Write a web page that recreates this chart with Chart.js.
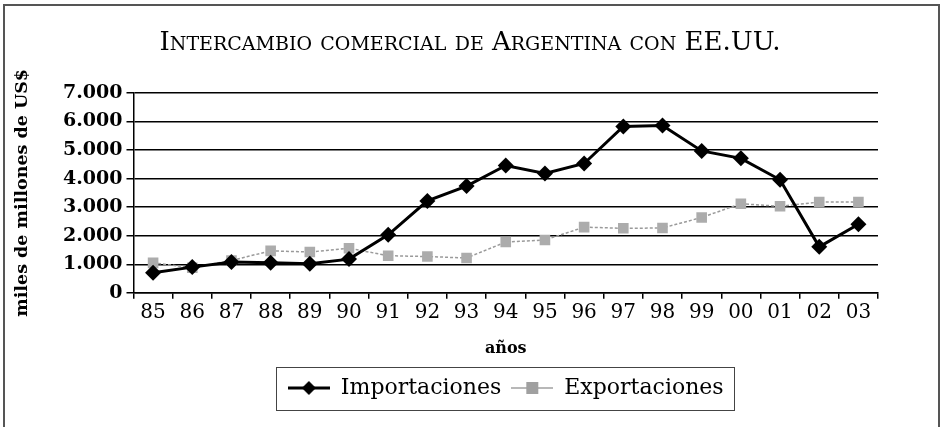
<!doctype html>
<html>
<head>
<meta charset="utf-8">
<title>Intercambio comercial de Argentina con EE.UU.</title>
<script src="https://cdn.jsdelivr.net/npm/chart.js"></script>
<style>
html, body {margin: 0; padding: 0; background: #fff;}
#wrap {width: 943px; height: 427px; position: relative;}
</style>
</head>
<body>
<div id="wrap"><canvas id="chart" width="943" height="427"></canvas></div>
<script>
let years = ['85', '86', '87', '88', '89', '90', '91', '92', '93', '94', '95', '96', '97', '98', '99', '00', '01', '02', '03']
let importaciones = [700, 900, 1080, 1050, 1020, 1180, 2030, 3220, 3740, 4460, 4180, 4530, 5830, 5860, 4970, 4710, 3960, 1610, 2400]
let exportaciones = [1050, 880, 1130, 1470, 1430, 1560, 1300, 1270, 1220, 1780, 1850, 2300, 2260, 2270, 2640, 3120, 3030, 3180, 3180]
let yTicks = [0, 1000, 2000, 3000, 4000, 5000, 6000, 7000]
let chartTitle = 'Intercambio comercial de Argentina con EE.UU.'

let serif = "'DejaVu Serif', 'Liberation Serif', serif"

function thousands(v) {
    return String(v).replace(/\B(?=(\d{3})+(?!\d))/g, '.')
}

// legend swatch: line with the marker in the middle
function swatch(color, lineWidth, shape) {
    let c = document.createElement('canvas')
    c.width = 42
    c.height = 20
    let ctx = c.getContext('2d')
    ctx.strokeStyle = color
    ctx.lineWidth = lineWidth
    ctx.beginPath()
    ctx.moveTo(0, 10)
    ctx.lineTo(42, 10)
    ctx.stroke()
    ctx.fillStyle = color
    ctx.beginPath()
    if (shape === 'diamond') {
        ctx.moveTo(21, 3); ctx.lineTo(28, 10); ctx.lineTo(21, 17); ctx.lineTo(14, 10)
    } else {
        ctx.rect(15, 4, 12, 12)
    }
    ctx.closePath()
    ctx.fill()
    return c
}

// title in small caps, drawn by hand: capitals full size, lower case as smaller capitals
function drawSmallCaps(ctx, text, cx, baseline, big, small) {
    let runs = []
    for (let ch of text) {
        let lower = ch !== ch.toUpperCase()
        let size = lower ? small : big
        let last = runs[runs.length - 1]
        if (last && last.size === size) last.text += ch.toUpperCase()
        else runs.push({size, text: ch.toUpperCase()})
    }
    let total = 0
    for (let r of runs) {
        ctx.font = r.size + 'px ' + serif
        r.w = ctx.measureText(r.text).width
        total += r.w
    }
    let x = cx - total / 2
    ctx.textAlign = 'left'
    ctx.textBaseline = 'alphabetic'
    for (let r of runs) {
        ctx.font = r.size + 'px ' + serif
        ctx.fillText(r.text, x, baseline)
        x += r.w
    }
}

let frame = {
    id: 'frame',
    beforeDraw(chart) {
        let ctx = chart.ctx
        ctx.save()
        ctx.fillStyle = '#fff'
        ctx.fillRect(0, 0, chart.width, chart.height)
        ctx.strokeStyle = '#555'
        ctx.lineWidth = 2
        ctx.strokeRect(4, 5, 935, 440)
        ctx.fillStyle = '#000'
        drawSmallCaps(ctx, chartTitle, 470, 50, 26, 19)
        ctx.restore()
    },
    afterDraw(chart) {
        let boxes = chart.legend.legendHitBoxes
        let left = Math.min(...boxes.map(b => b.left))
        let right = Math.max(...boxes.map(b => b.left + b.width))
        let ctx = chart.ctx
        ctx.save()
        ctx.strokeStyle = '#444'
        ctx.lineWidth = 1
        ctx.strokeRect(Math.round(left - 12) + 0.5, 367.5, Math.round(right - left + 22), 43)
        ctx.restore()
    }
}

new Chart(document.getElementById('chart'), {
    type: 'line',
    data: {
        labels: years,
        datasets: [
            {
                label: 'Importaciones',
                data: importaciones,
                borderColor: '#000',
                backgroundColor: '#000',
                borderWidth: 3,
                pointStyle: 'rectRot',
                pointRadius: 8,
                pointBorderWidth: 0,
                tension: 0
            },
            {
                label: 'Exportaciones',
                data: exportaciones,
                borderColor: '#9a9a9a',
                backgroundColor: '#acacac',
                borderWidth: 1.5,
                borderDash: [3, 2],
                pointStyle: 'rect',
                pointRadius: 7.5,
                pointBorderWidth: 0,
                tension: 0
            }
        ]
    },
    options: {
        responsive: false,
        animation: false,
        layout: {padding: {left: 12, right: 65, top: 93, bottom: 18}},
        plugins: {
            title: {display: false},
            legend: {
                position: 'bottom',
                fullSize: false,
                labels: {
                    color: '#000',
                    font: {family: serif, size: 22},
                    usePointStyle: true,
                    pointStyleWidth: 42,
                    padding: 10,
                    generateLabels(chart) {
                        return [
                            {text: 'Importaciones', pointStyle: swatch('#000', 3, 'diamond'), datasetIndex: 0, fontColor: '#000', lineWidth: 0},
                            {text: 'Exportaciones', pointStyle: swatch('#a0a0a0', 1.5, 'square'), datasetIndex: 1, fontColor: '#000', lineWidth: 0}
                        ]
                    }
                }
            },
            tooltip: {enabled: false}
        },
        scales: {
            x: {
                offset: true,
                border: {display: true, color: '#000', width: 1.5},
                grid: {display: true, offset: true, drawOnChartArea: false, drawTicks: true, tickLength: 6, color: '#000', lineWidth: 1.5},
                ticks: {color: '#000', font: {family: serif, size: 20}, padding: 2, maxRotation: 0, autoSkip: false},
                title: {display: true, text: 'años', color: '#000', font: {family: serif, size: 16, weight: 'bold'}, padding: {top: 12, bottom: 9}}
            },
            y: {
                min: 0,
                max: 7000,
                afterBuildTicks(axis) {
                    axis.ticks = yTicks.map(v => ({value: v}))
                },
                border: {display: true, color: '#000', width: 1.5},
                grid: {color: '#000', lineWidth: 1.5, tickLength: 7},
                ticks: {color: '#000', font: {family: serif, size: 19, weight: 'bold'}, padding: 4, callback: v => thousands(v)},
                title: {display: true, text: 'miles de millones de US$', color: '#000', font: {family: serif, size: 17.5, weight: 'bold'}, padding: {top: 0, bottom: 26}}
            }
        }
    },
    plugins: [frame]
})
</script>
</body>
</html>
